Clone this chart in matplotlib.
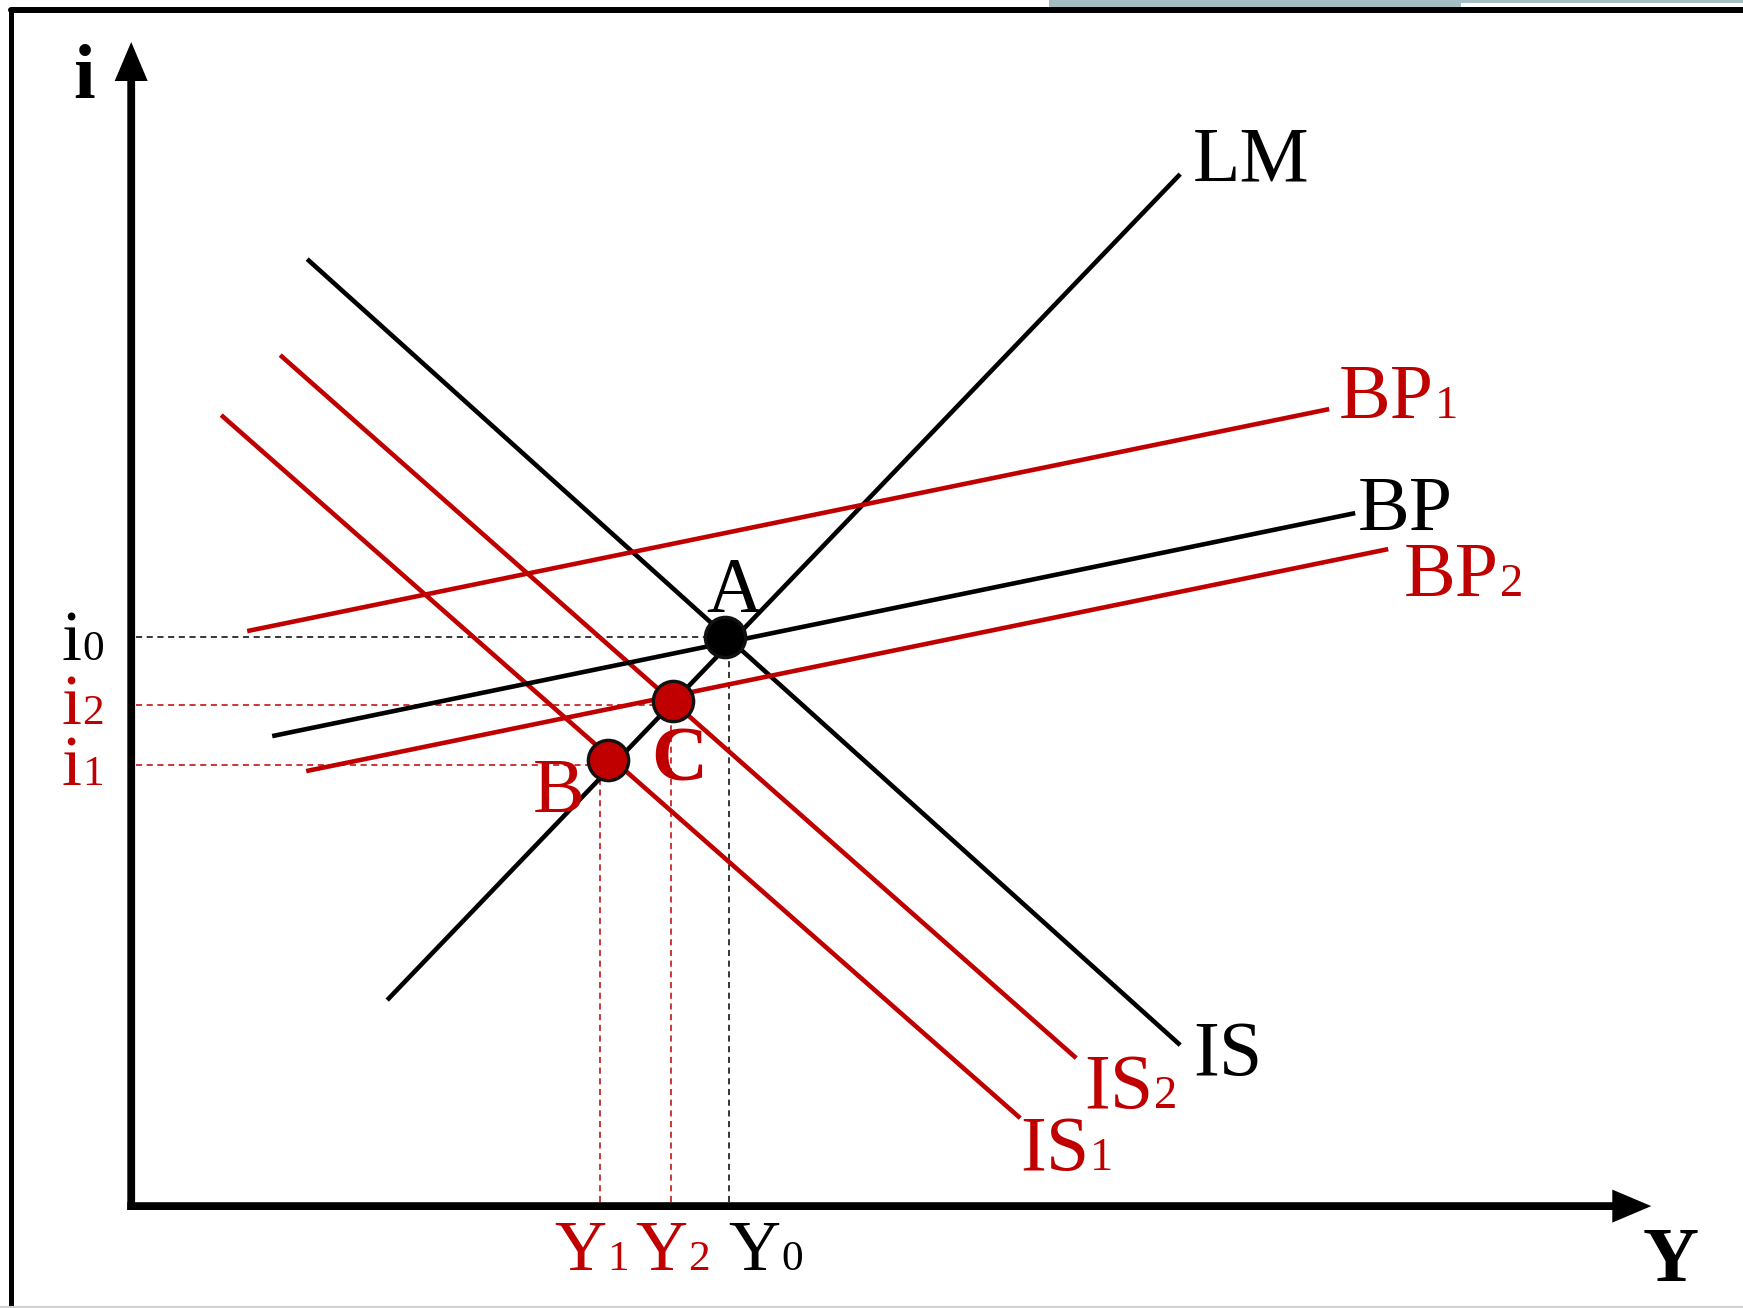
import matplotlib.pyplot as plt
from matplotlib.lines import Line2D
from matplotlib.patches import Rectangle

RED = '#c00000'
FONT = ['Liberation Serif', 'DejaVu Serif']

# curves: endpoints in (Y, i) units
lm_Y, lm_i = [25.6, 104.9], [20.6, 103.2]
is_Y, is_i = [17.6, 104.9], [94.7, 16.1]
is2_Y, is2_i = [14.9, 94.5], [85.1, 14.8]
is1_Y, is1_i = [9.0, 88.9], [79.1, 8.8]
bp1_Y, bp1_i = [11.6, 119.8], [57.5, 79.7]
bp_Y, bp_i = [14.1, 122.4], [47.0, 69.3]
bp2_Y, bp2_i = [17.5, 125.7], [43.5, 65.7]

# equilibrium points A, C, B
pt_Y = [59.4, 54.2, 47.7]
pt_i = [56.9, 50.5, 44.6]
pt_colors = ['black', RED, RED]

# levels marked on the axes (0, 2, 1)
lvl_Y = [59.8, 54.0, 46.9]
lvl_i = [56.9, 50.1, 44.1]
lvl_sub = ['0', '2', '1']

fig = plt.figure(figsize=(17.43, 13.08), dpi=100)
ax = fig.add_axes([0, 0, 1, 1])
ax.set_xlim(-13.12, 161.18)
ax.set_ylim(-10.19, 120.61)
ax.axis('off')

# slide frame
fig.add_artist(Rectangle((1049 / 1743, 1 - 7 / 1308), 412 / 1743, 7 / 1308,
                         transform=fig.transFigure, color='#a3bfc4', lw=0))
fig.add_artist(Rectangle((1461 / 1743, 1 - 3 / 1308), 282 / 1743, 3 / 1308,
                         transform=fig.transFigure, color='#a3bfc4', lw=0))
fig.add_artist(Line2D([11 / 1743, 1], [1 - 10 / 1308] * 2, transform=fig.transFigure,
                      color='black', lw=4.3, solid_capstyle='round'))
fig.add_artist(Line2D([11 / 1743] * 2, [0, 1 - 10 / 1308], transform=fig.transFigure,
                      color='black', lw=3.6, solid_capstyle='round'))
fig.add_artist(Line2D([0, 1], [1 / 1308] * 2, transform=fig.transFigure,
                      color='#d0d0d0', lw=1.5))


def label(x, y, main, sub='', color='black', weight='normal', ha='left', size=56):
    t = ax.text(x, y, main, color=color, fontsize=size, fontweight=weight,
                family=FONT, ha=ha, va='baseline')
    if sub:
        ax.annotate(sub, xy=(1, y), xycoords=(t, 'data'), xytext=(0.5, 0),
                    textcoords='offset points', color=color, fontsize=size * 0.6,
                    family=FONT, ha='left', va='baseline')
    return t


# axes with arrows
ax.arrow(-0.39, 0, 152.4, 0, width=0.78, head_width=3.3, head_length=3.9,
         length_includes_head=True, fc='black', ec='none')
ax.arrow(0, -0.39, 0, 116.8, width=0.78, head_width=3.3, head_length=3.9,
         length_includes_head=True, fc='black', ec='none')
label(-4.7, 110.8, 'i', weight='bold', ha='center')
label(153.9, -7.45, 'Y', weight='bold', ha='center')

# dashed guides
for y, i, c, s, ilab_y, ylab_x in zip(lvl_Y, lvl_i, pt_colors, lvl_sub,
                                      [54.6, 48.2, 42.1], [59.7, 50.4, 42.3]):
    ax.plot([0.5, y], [i, i], color=c, lw=1.1, ls=(0, (4, 3)))
    ax.plot([y, y], [0.4, i], color=c, lw=1.1, ls=(0, (4, 3)))
    label(-7.0, ilab_y, 'i', s, color=c, size=52)
    label(ylab_x, -6.4, 'Y', s, color=c, size=52)

# curves
lw = 3.3
ax.plot(lm_Y, lm_i, color='black', lw=lw, solid_capstyle='butt')
ax.plot(is_Y, is_i, color='black', lw=lw, solid_capstyle='butt')
ax.plot(is2_Y, is2_i, color=RED, lw=lw, solid_capstyle='butt')
ax.plot(is1_Y, is1_i, color=RED, lw=lw, solid_capstyle='butt')
ax.plot(bp1_Y, bp1_i, color=RED, lw=lw, solid_capstyle='butt')
ax.plot(bp_Y, bp_i, color='black', lw=lw, solid_capstyle='butt')
ax.plot(bp2_Y, bp2_i, color=RED, lw=lw, solid_capstyle='butt')

label(106.2, 102.6, 'LM')
label(106.2, 13.1, 'IS')
label(95.3, 9.8, 'IS', '2', color=RED)
label(88.9, 3.6, 'IS', '1', color=RED)
label(120.8, 78.8, 'BP', '1', color=RED)
label(122.7, 67.6, 'BP')
label(127.3, 61.0, 'BP', '2', color=RED)

# points
for y, i, c in zip(pt_Y, pt_i, pt_colors):
    ax.plot(y, i, 'o', ms=29, mfc=c, mec='#111111', mew=2.4, zorder=5)

label(60.3, 59.5, 'A', ha='center')
label(54.8, 42.6, 'C', color=RED, weight='bold', ha='center')
label(42.7, 39.4, 'B', color=RED, ha='center')

fig.savefig('out.png', dpi=100)
